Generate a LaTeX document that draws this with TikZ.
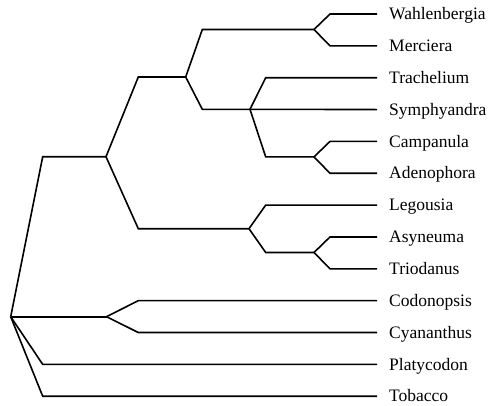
\documentclass[tikz,border=0pt]{standalone}
\usepackage{fontspec}
\setmainfont{Liberation Serif}
\begin{document}
\begin{tikzpicture}[x=1pt,y=-1pt,
  branch/.style={line width=1.6pt,line join=miter,black},
  taxon/.style={anchor=base west,inner sep=0pt,font=\fontsize{17.5}{20}\selectfont}]
\useasboundingbox (0,0) rectangle (488,405);
% leaf line ends and labels
\foreach \name/\lab/\i in {wah/Wahlenbergia/0,mer/Merciera/1,tra/Trachelium/2,sym/Symphyandra/3,cam/Campanula/4,ade/Adenophora/5,leg/Legousia/6,asy/Asyneuma/7,tri/Triodanus/8,cod/Codonopsis/9,cya/Cyananthus/10,pla/Platycodon/11,tob/Tobacco/12}{
  \coordinate (\name) at (377,{14+31.85*\i});
  \node[taxon] (\name-t) at (389,{19.7+31.85*\i}) {\lab};
}
% internal nodes
\coordinate (R) at (10.7,316.7);
\coordinate (N1) at (106,156.7);
\coordinate (N2) at (185.7,77);
\coordinate (N3) at (314,29.5);
\coordinate (N4) at (250,109.3);
\coordinate (N5) at (314,156.9);
\coordinate (N6) at (249,228.7);
\coordinate (N7) at (314,252.5);
\coordinate (N8) at (106.5,316.7);
% branches
\draw[branch] (R) -- (42.7,156.7) -- (N1);
\draw[branch] (N1) -- (138.3,77) -- (N2);
\draw[branch] (N2) -- (202.3,29.5) -- (N3);
\draw[branch] (N3) -- (330,14) -- (wah);
\draw[branch] (N3) -- (330,45.85) -- (mer);
\draw[branch] (N2) -- (202.3,109.3) -- (N4);
\draw[branch] (N4) -- (265.7,77.7) -- (tra);
\draw[branch] (N4) -- (sym);
\draw[branch] (N4) -- (265.7,156.9) -- (N5);
\draw[branch] (N5) -- (330,141.4) -- (cam);
\draw[branch] (N5) -- (330,173.25) -- (ade);
\draw[branch] (N1) -- (138.3,228.7) -- (N6);
\draw[branch] (N6) -- (265.7,205.1) -- (leg);
\draw[branch] (N6) -- (265.7,252.5) -- (N7);
\draw[branch] (N7) -- (330,236.95) -- (asy);
\draw[branch] (N7) -- (330,268.8) -- (tri);
\draw[branch] (R) -- (N8);
\draw[branch] (N8) -- (138.3,300.65) -- (cod);
\draw[branch] (N8) -- (138.3,332.5) -- (cya);
\draw[branch] (R) -- (42.7,364.35) -- (pla);
\draw[branch] (R) -- (42.7,396.2) -- (tob);
\end{tikzpicture}
\end{document}
